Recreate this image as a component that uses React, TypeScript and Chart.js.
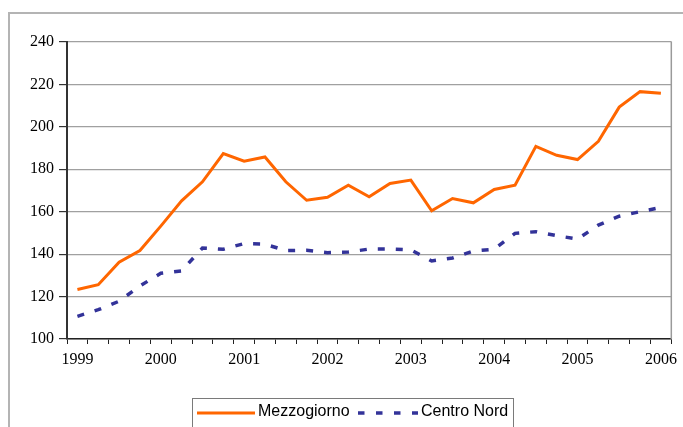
import React, { useEffect, useRef } from "react";
import { Chart, registerables } from "chart.js";

Chart.register(...registerables);

const quarters = [
  "1999 T1", "1999 T2", "1999 T3", "1999 T4",
  "2000 T1", "2000 T2", "2000 T3", "2000 T4",
  "2001 T1", "2001 T2", "2001 T3", "2001 T4",
  "2002 T1", "2002 T2", "2002 T3", "2002 T4",
  "2003 T1", "2003 T2", "2003 T3", "2003 T4",
  "2004 T1", "2004 T2", "2004 T3", "2004 T4",
  "2005 T1", "2005 T2", "2005 T3", "2005 T4",
  "2006 T1",
];

const mezzogiorno = [
  123.3, 125.6, 136.2, 141.7, 153.2, 165.1, 174.1, 187.4,
  183.8, 185.8, 174.1, 165.4, 166.8, 172.5, 167.0, 173.3,
  174.9, 160.4, 166.2, 164.2, 170.5, 172.5, 190.8, 186.6,
  184.6, 193.2, 209.3, 216.6, 215.8,
];

const centroNord = [
  110.7, 113.8, 117.8, 125.0, 131.0, 132.1, 142.9, 142.3,
  145.0, 144.7, 141.7, 141.8, 140.7, 141.0, 142.4, 142.4,
  142.0, 136.8, 138.2, 141.5, 142.3, 149.8, 150.6, 148.7,
  147.1, 153.7, 157.9, 160.0, 162.0,
];

const seriesNames = ["Mezzogiorno", "Centro Nord"];
const yMin = 100;
const yMax = 240;
const yStep = 20;

const ORANGE = "#FF6600";
const NAVY = "#333399";

const rightBorder = {
  id: "rightBorder",
  afterDraw(chart: any) {
    const { ctx, chartArea } = chart;
    ctx.save();
    ctx.strokeStyle = "#9a9a9a";
    ctx.lineWidth = 1.5;
    ctx.beginPath();
    ctx.moveTo(chartArea.right, chartArea.top - 0.5);
    ctx.lineTo(chartArea.right, chartArea.bottom);
    ctx.stroke();
    ctx.restore();
  },
};

export default function App() {
  const canvasRef = useRef<HTMLCanvasElement | null>(null);

  useEffect(() => {
    const canvas = canvasRef.current;
    if (!canvas) return;
    const chart = new Chart(canvas, {
      type: "line",
      data: {
        labels: quarters,
        datasets: [
          {
            label: seriesNames[0],
            data: mezzogiorno,
            borderColor: ORANGE,
            backgroundColor: ORANGE,
            borderWidth: 3,
            pointRadius: 0,
            tension: 0,
            fill: false,
          },
          {
            label: seriesNames[1],
            data: centroNord,
            borderColor: NAVY,
            backgroundColor: NAVY,
            borderWidth: 3.5,
            borderDash: [7, 11],
            pointRadius: 0,
            tension: 0,
            fill: false,
          },
        ],
      },
      options: {
        responsive: false,
        animation: false,
        devicePixelRatio: 1,
        layout: { padding: { left: 0, right: 6, top: 42, bottom: 0 } },
        plugins: {
          legend: { display: false },
          tooltip: { enabled: false },
        },
        scales: {
          x: {
            type: "category",
            offset: true,
            grid: {
              display: true,
              drawOnChartArea: false,
              drawTicks: true,
              tickLength: 5,
              tickColor: "#222",
              offset: true,
              lineWidth: 1,
            },
            border: { display: true, color: "#222", width: 1.5 },
            ticks: {
              autoSkip: false,
              maxRotation: 0,
              minRotation: 0,
              color: "#000",
              padding: 6,
              font: { family: "'Liberation Serif', 'Times New Roman', serif", size: 16 },
              callback: (_v: any, i: number) =>
                quarters[i].endsWith("T1") ? quarters[i].slice(0, 4) : "",
            },
            afterFit: (s: any) => {
              s.height = 88;
            },
          },
          y: {
            min: yMin,
            max: yMax,
            ticks: {
              stepSize: yStep,
              color: "#000",
              padding: 5,
              font: { family: "'Liberation Serif', 'Times New Roman', serif", size: 16 },
            },
            grid: {
              color: "#a0a0a0",
              lineWidth: 1.2,
              tickLength: 8,
              tickColor: "#333",
            },
            border: { display: true, color: "#333", width: 2 },
            afterFit: (s: any) => {
              s.width = 67;
            },
          },
        },
      },
      plugins: [rightBorder],
    });
    return () => chart.destroy();
  }, []);

  const textStyle: React.CSSProperties = {
    position: "absolute",
    fontFamily: "'Liberation Sans', Arial, sans-serif",
    fontSize: 16,
    lineHeight: "18px",
    color: "#000",
    whiteSpace: "nowrap",
  };

  return (
    <div
      style={{
        position: "fixed",
        left: 0,
        top: 0,
        width: 683,
        height: 427,
        overflow: "hidden",
        background: "#fff",
      }}
    >
      <div
        style={{
          position: "absolute",
          left: 8,
          top: 12,
          width: 720,
          height: 500,
          border: "2px solid #b4b4b4",
          boxSizing: "border-box",
        }}
      />
      <canvas
        ref={canvasRef}
        width={683}
        height={427}
        style={{ position: "absolute", left: 0, top: 0, width: 683, height: 427 }}
      />
      <div
        style={{
          position: "absolute",
          left: 192,
          top: 398,
          width: 322,
          height: 60,
          border: "1px solid #7a7a7a",
          boxSizing: "border-box",
        }}
      />
      <svg
        style={{ position: "absolute", left: 196, top: 406, overflow: "visible" }}
        width={60}
        height={14}
      >
        <line x1={1} y1={7} x2={59} y2={7} stroke={ORANGE} strokeWidth={3} />
      </svg>
      <span style={{ ...textStyle, left: 258, top: 402 }}>{seriesNames[0]}</span>
      <svg
        style={{ position: "absolute", left: 357, top: 406, overflow: "visible" }}
        width={62}
        height={14}
      >
        <line
          x1={1}
          y1={7}
          x2={61}
          y2={7}
          stroke={NAVY}
          strokeWidth={3.5}
          strokeDasharray="6.5 11.5"
        />
      </svg>
      <span style={{ ...textStyle, left: 421, top: 402 }}>{seriesNames[1]}</span>
    </div>
  );
}
